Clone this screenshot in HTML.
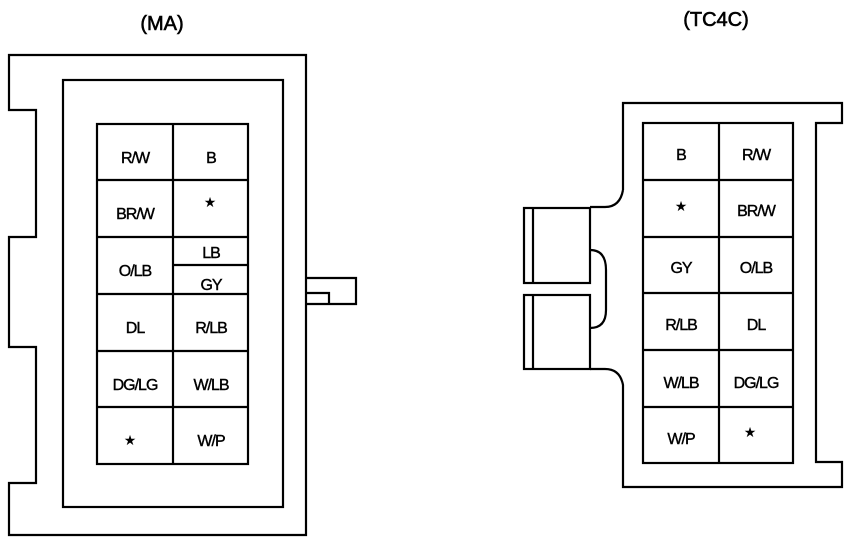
<!DOCTYPE html>
<html><head><style>html,body{margin:0;padding:0;background:#fff}svg{display:block}</style></head><body>
<svg width="864" height="544" viewBox="0 0 864 544" xmlns="http://www.w3.org/2000/svg" font-family="Liberation Sans, sans-serif">
<g fill="none" stroke="#000" stroke-width="2.2">
<path d="M9,55 H306 V535 H9 V483 H36 V347 H9 V237 H36 V110 H9 Z"/>
<rect x="63" y="80" width="220" height="427"/>
<rect x="97" y="124" width="151" height="340"/>
<path d="M173,124 V464 M97,180 H248 M97,237 H248 M97,294 H248 M97,351 H248 M97,407 H248 M173,265 H248"/>
<path d="M306,278 H356 V304 H306 M306,293 H329 V304"/>
<path d="M623,190 V103 H842 V123 H816 V462 H842 V487 H623 V385 Q620,369 605,369 H590 M623,190 Q620,207 605,207 H590"/>
<rect x="524" y="208" width="66" height="75"/>
<rect x="524" y="295" width="66" height="74"/>
<path d="M533,208 V283 M533,295 V369 M590,250 Q606,250 606,270 V310 Q606,328 590,328"/>
<rect x="643" y="123" width="150" height="340"/>
<path d="M719,123 V463 M643,180 H793 M643,237 H793 M643,293 H793 M643,350 H793 M643,407 H793"/>
</g>
<g font-size="20" text-anchor="middle" stroke="#000" stroke-width="0.6">
<text x="162" y="30">(MA)</text>
<text x="716" y="26">(TC4C)</text>
</g>
<g font-size="16" text-anchor="middle" letter-spacing="-1" stroke="#000" stroke-width="0.4">
<text x="135" y="163">R/W</text><text x="211" y="163">B</text>
<text x="135" y="219">BR/W</text>
<text x="135" y="276">O/LB</text><text x="211" y="258">LB</text><text x="211" y="290">GY</text>
<text x="135" y="333">DL</text><text x="211" y="333">R/LB</text>
<text x="135" y="390">DG/LG</text><text x="211" y="390">W/LB</text>
<text x="211" y="446">W/P</text>
<text x="681" y="160">B</text><text x="756" y="160">R/W</text>
<text x="756" y="216">BR/W</text>
<text x="681" y="273">GY</text><text x="756" y="273">O/LB</text>
<text x="681" y="330">R/LB</text><text x="756" y="330">DL</text>
<text x="681" y="388">W/LB</text><text x="756" y="388">DG/LG</text>
<text x="681" y="444">W/P</text>
</g>
<g font-size="14" text-anchor="middle" font-family="DejaVu Sans, sans-serif">
<text x="210" y="207">★</text>
<text x="130" y="445">★</text>
<text x="681" y="211">★</text>
<text x="750" y="437">★</text>
</g>
</svg>
</body></html>
